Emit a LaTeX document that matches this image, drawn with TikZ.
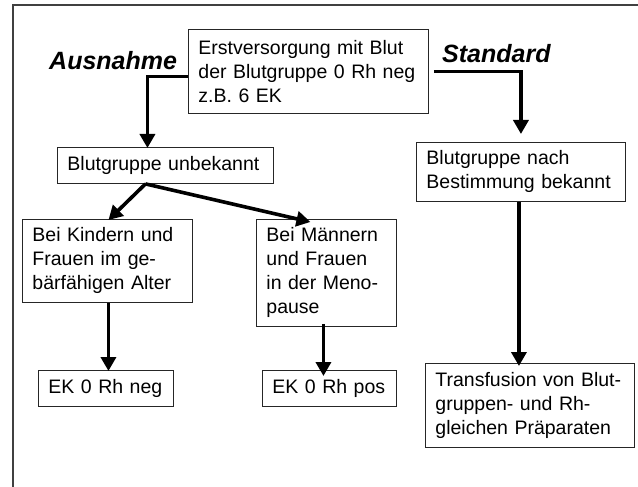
\documentclass[tikz,border=0pt]{standalone}
\usepackage{fontspec}
\setmainfont{Liberation Sans}
\usetikzlibrary{arrows.meta}
\begin{document}
\begin{tikzpicture}[x=1pt,y=-1pt,
  box/.style={draw=black!85, line width=0.9pt, fill=white, inner xsep=10pt, inner ysep=2pt,
    align=left, anchor=north west, font=\fontsize{19.5}{24}\selectfont},
  lbl/.style={inner sep=0pt, anchor=base west, font=\fontsize{25}{30}\selectfont\bfseries\itshape},
  arr/.style={line width=3.6pt, -{Triangle[width=15pt,length=14pt]}},
  frame/.style={draw=black!75, line width=1.3pt}]
\useasboundingbox (0,0) rectangle (638,487);
\draw[frame] (13,487) -- (13,5) -- (638,5);

\node[box, text width=220pt, minimum height=84pt] (top) at (188,29)
  {\mbox{Erstversorgung mit Blut}\\\mbox{der Blutgruppe 0 Rh neg}\\z.B. 6 EK};
\node[box, text width=196pt, minimum height=36pt] (unb) at (57,147)
  {\mbox{Blutgruppe unbekannt}};
\node[box, text width=189pt, minimum height=59pt] (kn) at (416,142)
  {Blutgruppe nach\\\mbox{Bestimmung bekannt}};
\node[box, text width=150pt, minimum height=83pt] (kind) at (22,219)
  {\mbox{Bei Kindern und}\\Frauen im ge-\\\mbox{bärfähigen Alter}};
\node[box, text width=120pt, minimum height=107pt] (mann) at (256,219)
  {\mbox{Bei Männern}\\und Frauen\\\mbox{in der Meno-}\\pause};
\node[box, text width=115pt, minimum height=36pt] (neg) at (38,370)
  {\mbox{EK 0 Rh neg}};
\node[box, text width=114pt, minimum height=36pt] (pos) at (262,370)
  {\mbox{EK 0 Rh pos}};
\node[box, text width=189pt, minimum height=84pt] (trans) at (425,363)
  {\mbox{Transfusion von Blut-}\\\mbox{gruppen- und Rh-}\\\mbox{gleichen Präparaten}};

\node[lbl] (aus) at (49,70) {Ausnahme};
\node[lbl] (std) at (442,63) {Standard};

\draw[arr] ([yshift=-5pt]top.west) -| ([xshift=-18pt,yshift=-1pt]unb.north);
\draw[arr] ([xshift=5pt]top.east) -| ([yshift=8pt]kn.north);
\draw[arr] ([xshift=-20pt]unb.south) -- ([xshift=1pt,yshift=-1pt]kind.north);
\draw[arr] ([xshift=-20pt]unb.south) -- ([xshift=-16pt,yshift=-3pt]mann.north);
\draw[arr] ([xshift=1pt]kind.south) -- ([xshift=1pt,yshift=-1pt]kind.south |- neg.north);
\draw[arr] ([xshift=-3pt,yshift=3pt]mann.south) -- ([xshift=-3pt,yshift=-6pt]mann.south |- pos.north);
\draw[arr] ([xshift=-2pt]kn.south) -- ([xshift=-2pt,yshift=-3pt]kn.south |- trans.north);
\end{tikzpicture}
\end{document}
